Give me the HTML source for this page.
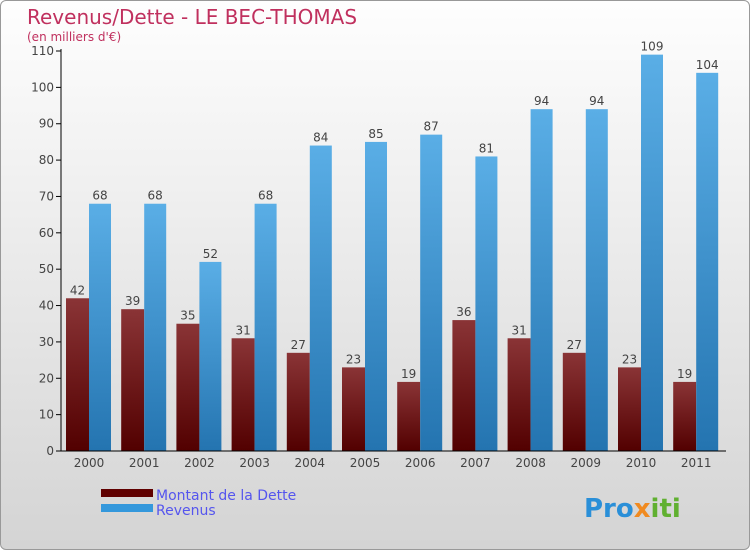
<!DOCTYPE html>
<html><head><meta charset="utf-8"><style>
body{margin:0}
#c{width:748px;height:548px;border:1px solid #999;border-radius:6px;background:linear-gradient(#fefefe,#d4d4d4);position:relative;overflow:hidden;font-family:"DejaVu Sans","Liberation Sans",sans-serif}
</style></head><body>
<div id="c">
<svg id="s" width="748" height="548">
<defs>
<linearGradient id="gd" x1="0" y1="0" x2="0" y2="1"><stop offset="0" stop-color="#8a3436"/><stop offset="1" stop-color="#520000"/></linearGradient>
<linearGradient id="gr" x1="0" y1="0" x2="0" y2="1"><stop offset="0" stop-color="#5aaee6"/><stop offset="1" stop-color="#2474b0"/></linearGradient>
</defs>
<text x="26" y="23" font-size="20" fill="#c0305e">Revenus/Dette - LE BEC-THOMAS</text>
<text x="26" y="40" font-size="12" fill="#c0305e">(en milliers d'€)</text>
<g id="g"></g>
<rect x="100" y="488" width="52" height="8" fill="#600000"/>
<rect x="100" y="503" width="52" height="8" fill="#3498dc"/>
<text x="155" y="499" font-size="14" fill="#5555ee">Montant de la Dette</text>
<text x="155" y="514" font-size="14" fill="#5555ee">Revenus</text>
<text x="583" y="516" font-size="26" font-weight="bold" fill="#2a8fd8">Pro<tspan fill="#f08a20">x</tspan><tspan fill="#60b030">iti</tspan></text>
</svg>
</div>
<script>
const years=["2000","2001","2002","2003","2004","2005","2006","2007","2008","2009","2010","2011"];
const dette=[42,39,35,31,27,23,19,36,31,27,23,19];
const revenus=[68,68,52,68,84,85,87,81,94,94,109,104];
const ticks=[0,10,20,30,40,50,60,70,80,90,100,110];
const g=document.getElementById('g');const NS="http://www.w3.org/2000/svg";
const y=v=>450-v*400/110, x0=i=>65+i*55.2;
function mk(t,a,txt){const e=document.createElementNS(NS,t);for(const k in a)e.setAttribute(k,a[k]);if(txt!=null)e.textContent=txt;g.appendChild(e);return e;}
ticks.forEach(t=>{const e=mk('line',{x1:55,x2:60,y1:y(t),y2:y(t),stroke:'#000'});


const l=mk('text',{x:53,y:y(t)+4,'font-size':12,fill:'#444','text-anchor':'end'},t);

});
years.forEach((yr,i)=>{
const a=mk('rect',{x:x0(i),y:y(dette[i]),width:23,height:450-y(dette[i]),fill:'url(#gd)'});


const b=mk('rect',{x:x0(i)+23,y:y(revenus[i]),width:22,height:450-y(revenus[i]),fill:'url(#gr)'});


const t1=mk('text',{x:x0(i)+11.5,y:y(dette[i])-4,'font-size':12,fill:'#444','text-anchor':'middle'},dette[i]);


const t2=mk('text',{x:x0(i)+34,y:y(revenus[i])-4,'font-size':12,fill:'#444','text-anchor':'middle'},revenus[i]);


const xl=mk('text',{x:x0(i)+23,y:466,'font-size':12,fill:'#444','text-anchor':'middle'},yr);

});
const ya=mk('line',{x1:60,x2:60,y1:48,y2:450,stroke:'#000'});


const xa=mk('line',{x1:60,x2:725,y1:450,y2:450,stroke:'#000'});


</script>
</body></html>
